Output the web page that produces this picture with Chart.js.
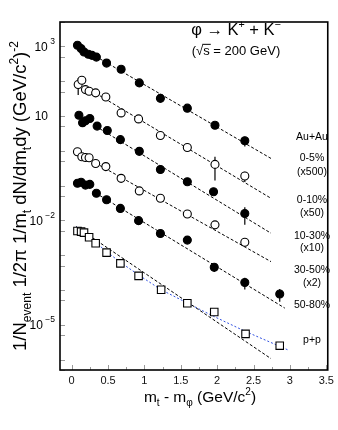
<!DOCTYPE html>
<html lang="en">
<head>
    <meta charset="UTF-8">
    <title>phi spectra</title>
    <script src="https://cdn.jsdelivr.net/npm/chart.js"></script>
    <style>
        body { margin: 0; background: #fff; }
        #chartContainer { width: 338px; height: 430px; }
    </style>
</head>
<body>
    <div id="chartContainer">
        <canvas id="specChart"></canvas>
    </div>

    <script>
        // mt - m_phi (GeV/c^2) and yields
        const xCent05 = [0.08, 0.13, 0.17, 0.23, 0.28, 0.34, 0.48, 0.68, 0.93, 1.22, 1.59, 1.97, 2.38];
        const yCent05 = [1070, 860, 690, 590, 550, 490, 330, 220, 89, 32, 16.7, 5.4, 1.93];
        const eCent05 = [0, 0, 0, 0, 0, 0, 0, 0, 0, 0, 0, 0, 0.6];

        const xCent010 = [0.09, 0.14, 0.19, 0.24, 0.33, 0.47, 0.68, 0.92, 1.22, 1.59, 1.97, 2.38];
        const yCent010 = [80, 106, 57, 51, 46, 35, 12.2, 8.2, 2.75, 1.24, 0.405, 0.187];
        const eCent010 = [40, 0, 0, 0, 0, 0, 0, 0, 0, 0, 0.265, 0.06];

        const xCent1030 = [0.10, 0.15, 0.19, 0.25, 0.35, 0.49, 0.67, 0.93, 1.22, 1.59, 1.95, 2.38];
        const yCent1030 = [10.5, 6.4, 7.3, 8.4, 5.1, 3.8, 2.08, 0.96, 0.29, 0.129, 0.066, 0.0157];
        const eCent1030 = [0, 0, 0, 0, 0, 0, 0, 0, 0, 0, 0, 0.0082];

        const xCent3050 = [0.08, 0.14, 0.19, 0.24, 0.33, 0.47, 0.68, 0.93, 1.22, 1.59, 1.97, 2.38];
        const yCent3050 = [0.93, 0.67, 0.64, 0.63, 0.43, 0.35, 0.161, 0.070, 0.043, 0.0152, 0.0074, 0.00235];
        const eCent3050 = [0, 0, 0, 0, 0, 0, 0, 0, 0, 0, 0, 0.0006];

        const xCent5080 = [0.08, 0.13, 0.19, 0.25, 0.34, 0.48, 0.67, 0.92, 1.22, 1.59, 1.96, 2.38, 2.86];
        const yCent5080 = [0.116, 0.124, 0.103, 0.108, 0.060, 0.039, 0.022, 0.0098, 0.0042, 0.0027, 0.00045, 0.000163, 0.000076];
        const eCent5080 = [0, 0, 0, 0, 0, 0, 0, 0, 0, 0, 0.00012, 0.00006, 0.00003];

        const xPP = [0.08, 0.13, 0.17, 0.24, 0.33, 0.48, 0.67, 0.92, 1.23, 1.59, 1.96, 2.39, 2.86];
        const yPP = [0.00495, 0.00473, 0.00444, 0.00327, 0.0022, 0.00118, 0.00058, 0.000254, 0.000101, 4.13e-5, 2.31e-5, 5.45e-6, 2.5e-6];

        // exponential fits (end points) and the p+p power-law curve
        const fitX = [0.33, 2.74];
        const fit05 = [516, 0.60];
        const fit010 = [44.9, 0.043];
        const fit1030 = [5.08, 0.00426];
        const fit3050 = [0.44, 0.00065];
        const fit5080X = [0.33, 2.93];
        const fit5080 = [0.061, 3.0e-5];
        const fitPPX = [0.06, 2.74];
        const fitPP = [0.0066, 1.06e-6];
        const powPPX = [0.06, 0.47, 0.67, 0.93, 1.22, 1.59, 1.95, 2.39, 2.97];
        const powPP = [6.6e-3, 1.32e-3, 6.2e-4, 2.62e-4, 1.04e-4, 4.2e-5, 1.75e-5, 6.4e-6, 1.9e-6];

        const legendText = ['Au+Au', '0-5%', '(x500)', '0-10%', '(x50)', '10-30%', '(x10)', '30-50%', '(x2)', '50-80%', 'p+p'];
        const yLabelled = [1e3, 10, 1e-2, 1e-5];
        const yLabelExp = ['3', '', '-2', '-5'];

        function pts(xs, ys) {
            return xs.map((x, i) => ({ x: x, y: ys[i] }));
        }

        function markerSet(xs, ys, errs, style, filled) {
            return {
                data: pts(xs, ys),
                errs: errs,
                pointStyle: style,
                pointRadius: style === 'rect' ? 5.3 : 4,
                pointBackgroundColor: filled ? '#000' : '#fff',
                pointBorderColor: '#000',
                pointBorderWidth: 1.1,
                showLine: false,
                order: 1
            };
        }

        function fitLine(xs, ys, color, dash) {
            return {
                data: pts(xs, ys),
                showLine: true,
                borderColor: color,
                borderWidth: 1,
                borderDash: dash,
                pointRadius: 0,
                fill: false,
                order: 2
            };
        }

        const FONT = '"Liberation Sans", Arial, sans-serif';

        // draws text with sub/superscripts, centred on x
        function drawRich(ctx, segs, x, y, size) {
            let total = 0;
            segs.forEach(s => {
                ctx.font = ((s.sub || s.sup) ? size * 0.65 : size) + 'px ' + FONT;
                s.w = ctx.measureText(s.t).width;
                total += s.w;
            });
            let cx = x - total / 2;
            ctx.textAlign = 'left';
            ctx.textBaseline = 'alphabetic';
            segs.forEach(s => {
                ctx.font = ((s.sub || s.sup) ? size * 0.65 : size) + 'px ' + FONT;
                let dy = s.sub ? size * 0.28 : (s.sup ? -size * 0.42 : 0);
                ctx.fillText(s.t, cx, y + dy);
                if (s.over) {
                    ctx.beginPath();
                    ctx.lineWidth = 1;
                    ctx.moveTo(cx - 1, y - size * 0.82);
                    ctx.lineTo(cx + s.w + 1, y - size * 0.82);
                    ctx.stroke();
                }
                cx += s.w;
            });
        }

        const decorPlugin = {
            id: 'decor',
            beforeDatasetsDraw(chart) {
                const ctx = chart.ctx;
                const xs = chart.scales.x, ys = chart.scales.y;
                ctx.save();
                ctx.strokeStyle = '#000';
                ctx.lineWidth = 1.2;
                chart.data.datasets.forEach(ds => {
                    if (!ds.errs) return;
                    ds.data.forEach((p, i) => {
                        const e = ds.errs[i];
                        if (!e) return;
                        const px = xs.getPixelForValue(p.x);
                        const lo = Math.max(p.y - e, ys.min);
                        ctx.beginPath();
                        ctx.moveTo(px, ys.getPixelForValue(p.y + e));
                        ctx.lineTo(px, ys.getPixelForValue(lo));
                        ctx.stroke();
                    });
                });
                ctx.restore();
            },
            afterDraw(chart) {
                const ctx = chart.ctx;
                const a = chart.chartArea;
                const xs = chart.scales.x, ys = chart.scales.y;
                ctx.save();

                // inner ticks
                ctx.strokeStyle = '#999';
                ctx.lineWidth = 1;
                for (let v = 0; v <= 3.5001; v += 0.25) {
                    const px = Math.round(xs.getPixelForValue(v)) + 0.5;
                    const major = Math.abs(v * 2 - Math.round(v * 2)) < 1e-6;
                    ctx.beginPath();
                    ctx.moveTo(px, a.bottom);
                    ctx.lineTo(px, a.bottom - (major ? 5 : 3));
                    ctx.stroke();
                }
                ys.ticks.forEach(t => {
                    const py = Math.round(ys.getPixelForValue(t.value)) + 0.5;
                    ctx.beginPath();
                    ctx.moveTo(a.left, py);
                    ctx.lineTo(a.left + 5, py);
                    ctx.stroke();
                });

                // frame
                ctx.strokeStyle = '#000';
                ctx.lineWidth = 1.6;
                ctx.strokeRect(a.left, a.top, a.right - a.left, a.bottom - a.top);

                ctx.fillStyle = '#000';
                ctx.strokeStyle = '#000';

                // y tick labels 10^n
                yLabelled.forEach((v, i) => {
                    const py = ys.getPixelForValue(v);
                    const exp = yLabelExp[i].replace('-', '\u2212');
                    ctx.textBaseline = 'middle';
                    ctx.textAlign = 'right';
                    ctx.font = '8.5px ' + FONT;
                    const ew = ctx.measureText(exp).width;
                    ctx.fillText(exp, 55, py - 5);
                    ctx.font = '12px ' + FONT;
                    ctx.fillText('10', exp ? 55 - ew - 2.5 : 48, py + 1);
                });

                // titles
                drawRich(ctx, [{ t: 'φ → K' }, { t: '+', sup: 1 }, { t: ' + K' }, { t: '\u2212', sup: 1 }], 236, 35, 16.5);
                drawRich(ctx, [{ t: '(√' }, { t: 's', over: 1 }, { t: ' = 200 GeV)' }], 236, 55, 13);
                drawRich(ctx, [{ t: 'm' }, { t: 't', sub: 1 }, { t: ' - m' }, { t: 'φ', sub: 1 },
                    { t: ' (GeV/c' }, { t: '2', sup: 1 }, { t: ')' }], 200, 402, 15.5);

                ctx.save();
                ctx.translate(26, (a.top + a.bottom) / 2);
                ctx.rotate(-Math.PI / 2);
                drawRich(ctx, [{ t: '1/N' }, { t: 'event', sub: 1 }, { t: ' 1/2π 1/m' }, { t: 't', sub: 1 },
                    { t: ' dN/dm' }, { t: 't', sub: 1 }, { t: 'dy (GeV/c' }, { t: '2', sup: 1 }, { t: ')' },
                    { t: '-2', sup: 1 }], 0, 0, 18.5);
                ctx.restore();

                // centrality labels
                const legendY = [137, 158, 172, 200.5, 213, 236, 248.5, 270, 283, 305, 340];
                ctx.font = '10.5px ' + FONT;
                ctx.textAlign = 'center';
                ctx.textBaseline = 'middle';
                legendText.forEach((t, i) => ctx.fillText(t, 312, legendY[i]));

                ctx.restore();
            }
        };

        const yTickVals = [];
        for (let k = -7; k <= 4; k++) {
            yTickVals.push(Math.pow(10, k));
            yTickVals.push(5 * Math.pow(10, k - 1));
        }

        const ctx = document.getElementById('specChart').getContext('2d');
        const specChart = new Chart(ctx, {
            type: 'scatter',
            data: {
                datasets: [
                    markerSet(xCent05, yCent05, eCent05, 'circle', true),
                    markerSet(xCent010, yCent010, eCent010, 'circle', false),
                    markerSet(xCent1030, yCent1030, eCent1030, 'circle', true),
                    markerSet(xCent3050, yCent3050, eCent3050, 'circle', false),
                    markerSet(xCent5080, yCent5080, eCent5080, 'circle', true),
                    markerSet(xPP, yPP, null, 'rect', false),
                    fitLine(fitX, fit05, '#000', [3, 2]),
                    fitLine(fitX, fit010, '#000', [3, 2]),
                    fitLine(fitX, fit1030, '#000', [3, 2]),
                    fitLine(fitX, fit3050, '#000', [3, 2]),
                    fitLine(fit5080X, fit5080, '#000', [3, 2]),
                    fitLine(fitPPX, fitPP, '#000', [3, 2]),
                    fitLine(powPPX, powPP, '#3050e0', [2, 2])
                ]
            },
            options: {
                responsive: true,
                maintainAspectRatio: false,
                animation: false,
                layout: { padding: { top: 22, right: 10, left: 0, bottom: 0 } },
                plugins: {
                    legend: { display: false },
                    tooltip: { enabled: false }
                },
                scales: {
                    x: {
                        type: 'linear',
                        min: -0.16,
                        max: 3.52,
                        grid: { display: false, drawTicks: false },
                        border: { display: false },
                        afterBuildTicks: s => {
                            s.ticks = [];
                            for (let v = 0; v <= 3.5001; v += 0.25) s.ticks.push({ value: Math.round(v * 100) / 100 });
                        },
                        afterFit: s => { s.height = 60; },
                        ticks: {
                            autoSkip: false,
                            maxRotation: 0,
                            padding: 4,
                            color: '#111',
                            font: { family: 'Liberation Sans', size: 11 },
                            callback: v => (Math.abs(v * 2 - Math.round(v * 2)) < 1e-6) ? String(v) : ''
                        }
                    },
                    y: {
                        type: 'logarithmic',
                        min: 5e-7,
                        max: 5e3,
                        grid: { display: false, drawTicks: false },
                        border: { display: false },
                        afterBuildTicks: s => {
                            s.ticks = yTickVals.filter(v => v >= s.min && v <= s.max).map(v => ({ value: v }));
                        },
                        afterFit: s => { s.width = 60; },
                        ticks: { display: false }
                    }
                }
            },
            plugins: [decorPlugin]
        });
    </script>
</body>
</html>
